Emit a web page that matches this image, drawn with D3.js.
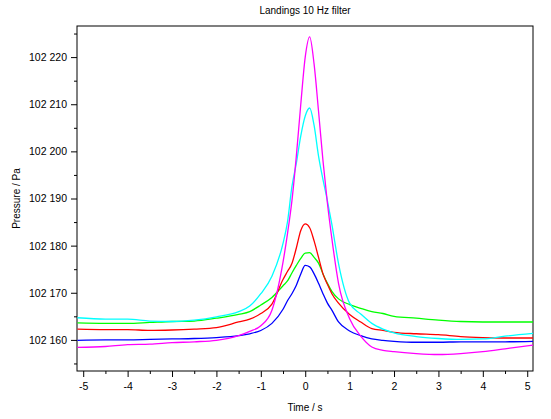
<!DOCTYPE html>
<html>
<head>
<meta charset="utf-8">
<script src="https://cdn.jsdelivr.net/npm/d3@7"></script>
<style>
  body { margin: 0; background: #fff; }
  svg { display: block; font-family: "Liberation Sans", Arial, sans-serif; }
</style>
</head>
<body>
<svg id="chart" width="551" height="419"></svg>
<script>
// time axis (s), shared by every landing
var times = [-5.13, -4.5, -4, -3.5, -3, -2.5, -2, -1.5, -1.25, -1, -0.75, -0.5, -0.4, -0.3, -0.2, -0.1,
    0, 0.1, 0.2, 0.3, 0.4, 0.5, 0.6, 0.75, 1, 1.25, 1.5, 1.75, 2, 2.5, 3, 3.5, 4, 4.5, 5.13];

// pressures (Pa)
var blueP = [102159.9, 102160.0, 102160.0, 102160.1, 102160.2, 102160.3, 102160.5, 102160.9, 102161.3, 102162.0,
    102163.5, 102166.5, 102168.3, 102169.8, 102171.6, 102174.0, 102175.8, 102175.5, 102174.0, 102172.0,
    102169.8, 102167.8, 102166.3, 102163.8, 102161.9, 102160.9, 102160.2, 102159.9, 102159.7, 102159.5,
    102159.5, 102159.6, 102159.6, 102159.6, 102159.7];
var greenP = [102163.6, 102163.5, 102163.5, 102163.7, 102163.9, 102164.0, 102164.6, 102165.4, 102166.0, 102167.4,
    102169.0, 102171.5, 102172.5, 102174.2, 102175.8, 102177.3, 102178.4, 102178.5, 102177.5, 102176.3,
    102174.0, 102172.0, 102170.3, 102168.7, 102167.5, 102166.7, 102166.0, 102165.6, 102165.0, 102164.6,
    102164.2, 102163.9, 102163.8, 102163.8, 102163.8];
var redP = [102162.3, 102162.2, 102162.2, 102162.0, 102162.1, 102162.3, 102162.6, 102163.8, 102164.4, 102165.6,
    102167.6, 102172.8, 102174.5, 102176.2, 102179.5, 102183.2, 102184.6, 102183.8, 102181.0, 102177.5,
    102174.0, 102171.8, 102169.8, 102167.8, 102165.4, 102163.8, 102162.4, 102162.0, 102161.6, 102161.3,
    102161.1, 102160.7, 102160.5, 102160.4, 102160.4];
var cyanP = [102164.7, 102164.4, 102164.4, 102164.0, 102163.9, 102164.2, 102164.9, 102166.0, 102167.2, 102169.8,
    102173.5, 102180.5, 102185.0, 102192.5, 102197.5, 102203.3, 102207.5, 102209.2, 102205.5, 102199.0,
    102194.0, 102189.5, 102184.5, 102176.2, 102167.8, 102165.5, 102163.5, 102162.3, 102161.5, 102160.7,
    102160.3, 102160.1, 102160.2, 102160.8, 102161.4];
var magentaP = [102158.4, 102158.6, 102159.0, 102159.1, 102159.4, 102159.6, 102159.9, 102160.9, 102161.8, 102163.0,
    102166.3, 102176.5, 102182.5, 102189.5, 102199.0, 102210.0, 102220.0, 102224.3, 102218.5, 102208.5,
    102198.0, 102189.0, 102181.5, 102172.0, 102164.5, 102160.8, 102158.5, 102157.8, 102157.5, 102157.1,
    102156.9, 102157.1, 102157.5, 102158.1, 102158.9];

var seriesColors = ["#0000ff", "#00ff00", "#ff0000", "#00ffff", "#ff00ff"];
var seriesValues = [blueP, greenP, redP, cyanP, magentaP];

var xTicks = [-5, -4, -3, -2, -1, 0, 1, 2, 3, 4, 5];
var yTicks = [102160, 102170, 102180, 102190, 102200, 102210, 102220];

var margin = { top: 26, right: 18, bottom: 48, left: 77 },
    width = 551 - margin.left - margin.right,
    height = 419 - margin.top - margin.bottom;

var svg = d3.select("#chart");
var g = svg.append("g")
    .attr("transform", "translate(" + margin.left + "," + margin.top + ")");

var x = d3.scaleLinear().domain([-5.14, 5.13]).range([0, width]);
var y = d3.scaleLinear().domain([102153.4, 102226.6]).range([height, 0]);

// thousands with a space: 102 220
function fmtP(v) {
    var s = String(Math.round(v));
    return s.slice(0, s.length - 3) + " " + s.slice(s.length - 3);
}

// minor ticks first
var xMinor = d3.range(-5, 5.01, 0.5).filter(function (d) { return Math.abs(d % 1) > 0.1; });
var yMinor = d3.range(102155, 102226, 10);

g.append("g")
    .attr("transform", "translate(0," + height + ")")
    .call(d3.axisBottom(x).tickValues(xMinor).tickSize(3).tickFormat(""))
    .call(function (a) { a.select(".domain").remove(); });
g.append("g")
    .call(d3.axisLeft(y).tickValues(yMinor).tickSize(3).tickFormat(""))
    .call(function (a) { a.select(".domain").remove(); });

var xAxis = g.append("g")
    .attr("transform", "translate(0," + height + ")")
    .call(d3.axisBottom(x).tickValues(xTicks).tickSize(6).tickPadding(6).tickFormat(function (d) { return String(d); }));
xAxis.select(".domain").remove();
xAxis.selectAll("text").attr("font-size", "10.5px").attr("font-family", "Liberation Sans, Arial, sans-serif");

var yAxis = g.append("g")
    .call(d3.axisLeft(y).tickValues(yTicks).tickSize(6).tickPadding(4).tickFormat(fmtP));
yAxis.select(".domain").remove();
yAxis.selectAll("text").attr("font-size", "10.5px").attr("font-family", "Liberation Sans, Arial, sans-serif");

// plot frame
g.append("rect")
    .attr("x", 0).attr("y", 0)
    .attr("width", width).attr("height", height)
    .attr("fill", "none")
    .attr("stroke", "#000")
    .attr("stroke-width", 1);

svg.append("clipPath").attr("id", "plotclip")
    .append("rect").attr("width", width).attr("height", height);

var line = d3.line()
    .x(function (d, i) { return x(times[i]); })
    .y(function (d) { return y(d); })
    .curve(d3.curveMonotoneX);

g.append("g").attr("clip-path", "url(#plotclip)")
    .selectAll("path")
    .data(seriesValues)
    .enter().append("path")
    .attr("fill", "none")
    .attr("stroke", function (d, i) { return seriesColors[i]; })
    .attr("stroke-width", 1.3)
    .attr("d", line);

// titles
svg.append("text")
    .attr("x", margin.left + width / 2).attr("y", 14)
    .attr("text-anchor", "middle")
    .attr("font-size", "10px")
    .text("Landings 10 Hz filter");

svg.append("text")
    .attr("x", margin.left + width / 2).attr("y", 411)
    .attr("text-anchor", "middle")
    .attr("font-size", "10px")
    .text("Time / s");

svg.append("text")
    .attr("transform", "translate(20," + (margin.top + height / 2) + ") rotate(-90)")
    .attr("text-anchor", "middle")
    .attr("font-size", "10px")
    .text("Pressure / Pa");
</script>
</body>
</html>
